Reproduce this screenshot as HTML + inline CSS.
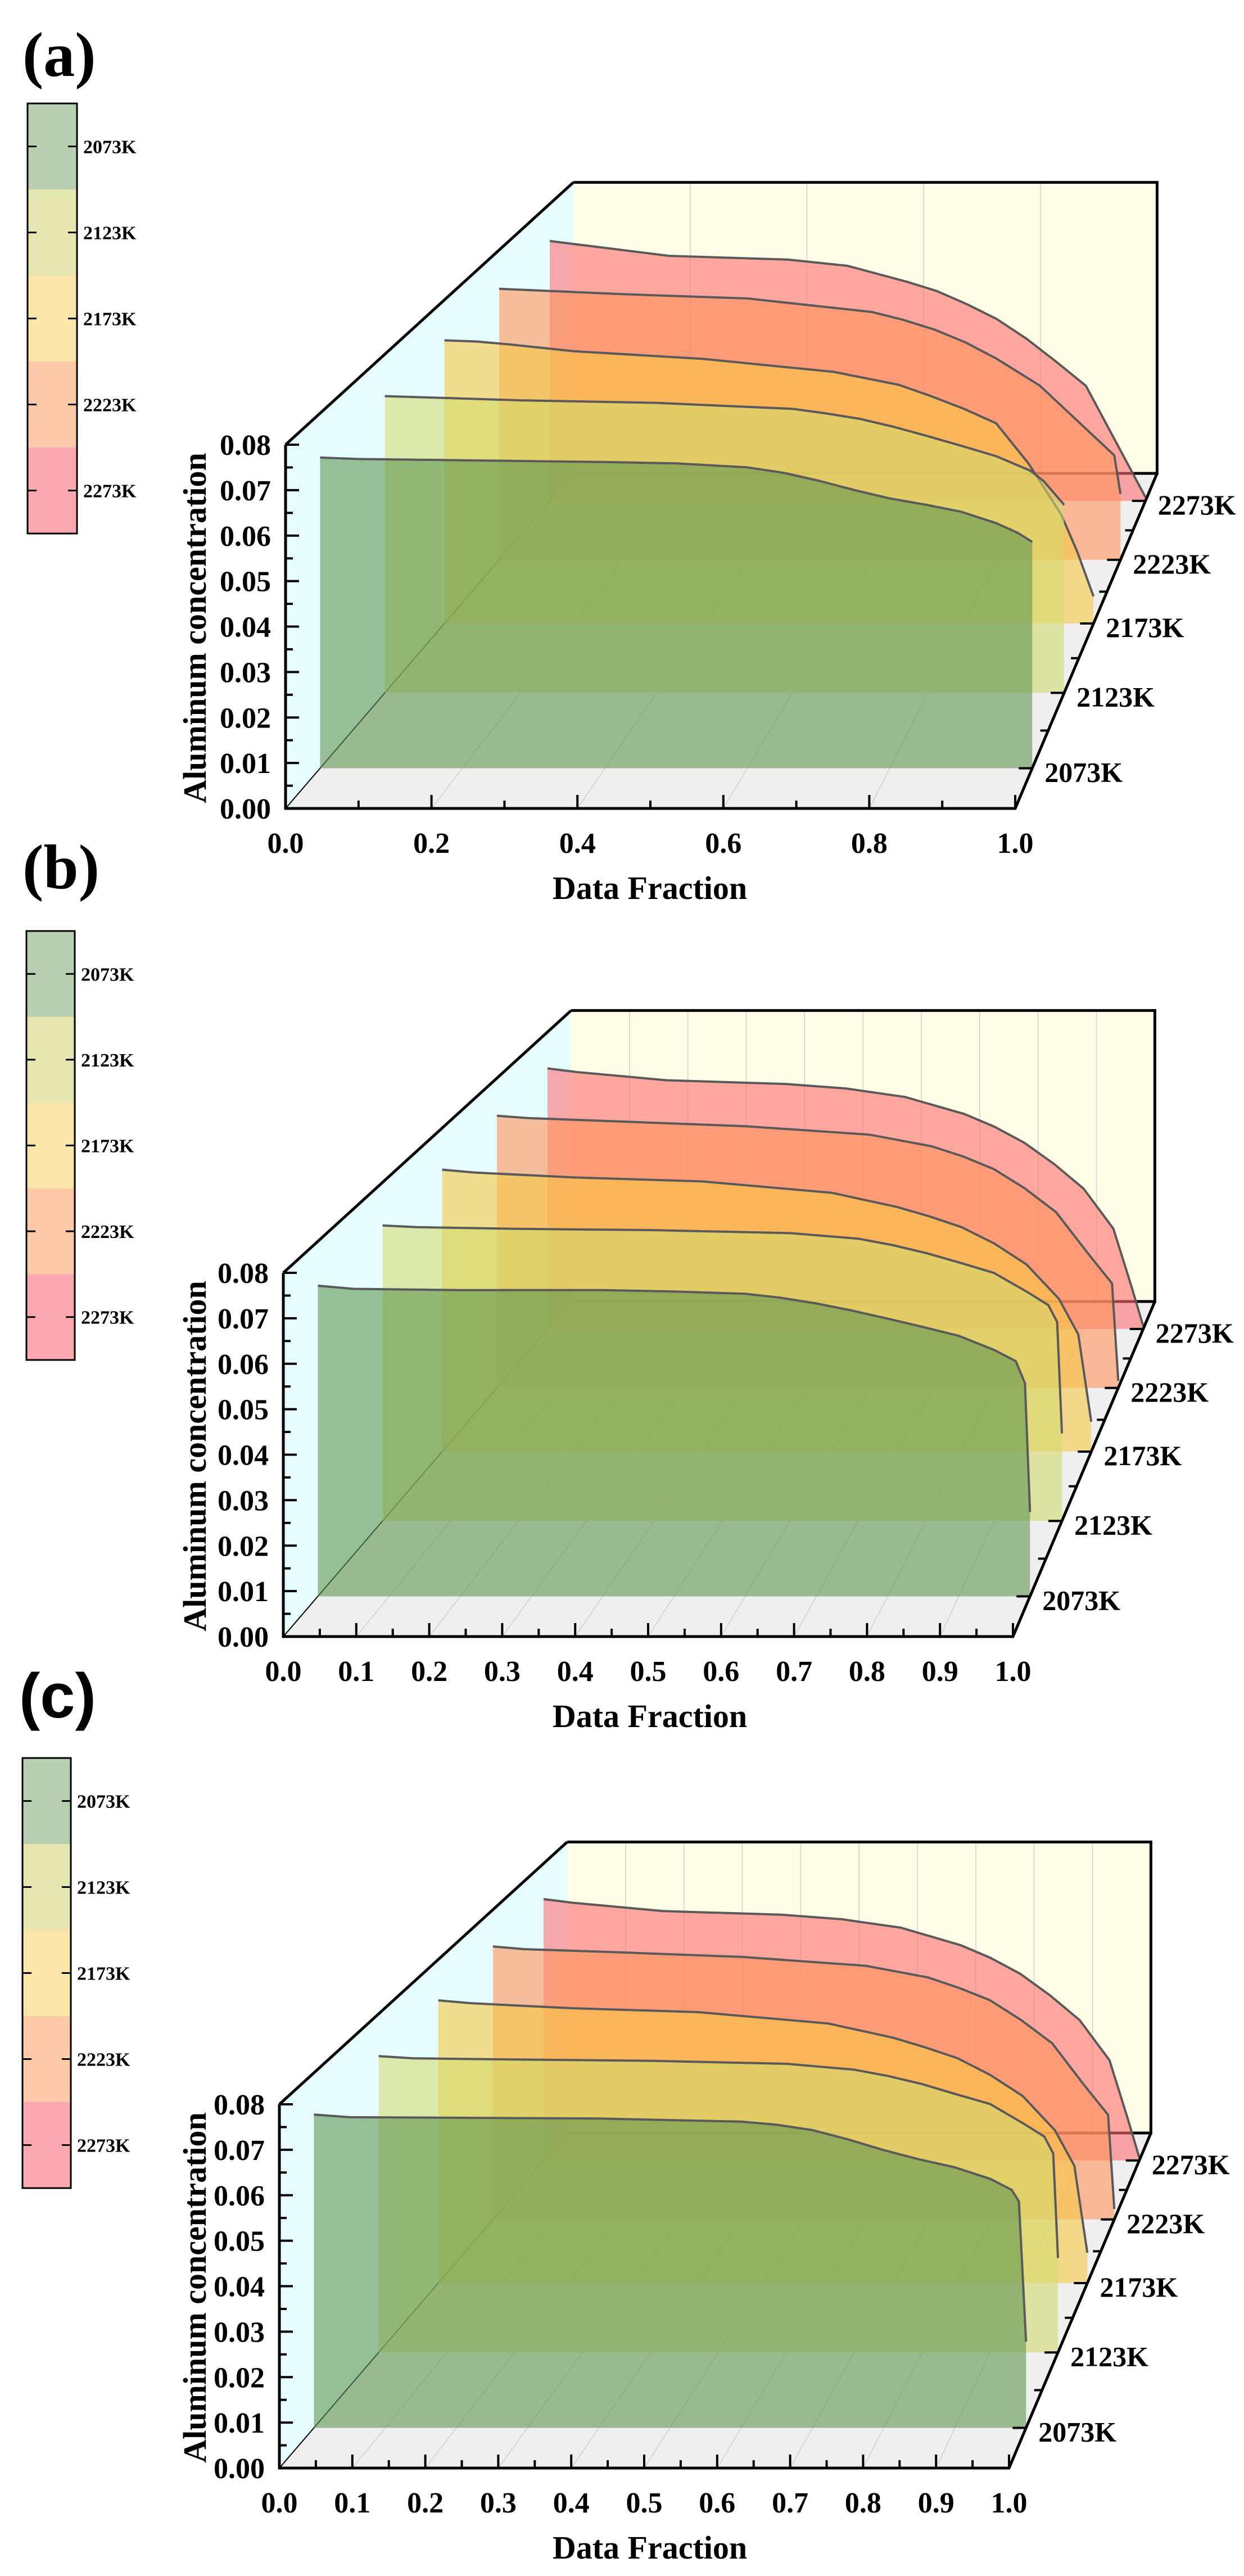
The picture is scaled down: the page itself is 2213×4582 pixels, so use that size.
<!DOCTYPE html>
<html><head><meta charset="utf-8"><style>
html,body{margin:0;padding:0;background:#fff;}
svg{display:block;}
text{font-family:"Liberation Serif",serif;font-weight:bold;fill:#000;}
</style></head><body>
<svg id="fig" width="2213" height="4582" viewBox="0 0 2213 4582" xmlns="http://www.w3.org/2000/svg"></svg>
<script>
// ---------- data ----------
const temps = ['2073K','2123K','2173K','2223K','2273K'];
const yTicks = [0,0.01,0.02,0.03,0.04,0.05,0.06,0.07,0.08];
const yTickLabels = ['0.00','0.01','0.02','0.03','0.04','0.05','0.06','0.07','0.08'];
const xTicksA = [0,0.2,0.4,0.6,0.8,1.0];
const xTickLabelsA = ['0.0','0.2','0.4','0.6','0.8','1.0'];
const xTicksBC = [0,0.1,0.2,0.3,0.4,0.5,0.6,0.7,0.8,0.9,1.0];
const xTickLabelsBC = ['0.0','0.1','0.2','0.3','0.4','0.5','0.6','0.7','0.8','0.9','1.0'];

const a2073x=[0,0.05,0.2,0.4,0.5,0.6,0.65,0.7,0.75,0.8,0.85,0.9,0.95,0.98,1.0];
const a2073v=[0.070,0.0697,0.0694,0.069,0.0687,0.0678,0.0666,0.0648,0.0627,0.0608,0.0594,0.0578,0.0552,0.053,0.051];
const a2123x=[0,0.1,0.2,0.4,0.6,0.65,0.7,0.75,0.8,0.85,0.9,0.95,0.97,1.0];
const a2123v=[0.0701,0.0696,0.0691,0.0685,0.0671,0.066,0.0647,0.0628,0.0606,0.0583,0.0559,0.0525,0.050,0.0444];
const a2173x=[0,0.05,0.1,0.2,0.4,0.6,0.7,0.75,0.8,0.85,0.9,0.95,0.975,1.0];
const a2173v=[0.070,0.0697,0.069,0.0673,0.0654,0.0622,0.059,0.0562,0.0531,0.0495,0.0395,0.027,0.0177,0.0067];
const a2223x=[0,0.2,0.4,0.6,0.65,0.7,0.75,0.8,0.87,0.95,0.99,1.0];
const a2223v=[0.070,0.0686,0.0675,0.064,0.0620,0.0595,0.0562,0.052,0.045,0.033,0.027,0.017];
const a2273x=[0,0.1,0.2,0.4,0.5,0.6,0.65,0.7,0.75,0.8,0.85,0.9,0.93,0.96,1.0];
const a2273v=[0.070,0.068,0.066,0.065,0.0633,0.059,0.0565,0.053,0.049,0.0437,0.0375,0.031,0.022,0.013,0.001];

const b2073x=[0,0.05,0.2,0.4,0.5,0.6,0.65,0.7,0.75,0.8,0.85,0.9,0.95,0.98,0.993,1.0];
const b2073v=[0.070,0.0693,0.069,0.069,0.0687,0.0682,0.0673,0.066,0.0644,0.0626,0.0607,0.0587,0.0555,0.053,0.048,0.019];
const b2123x=[0,0.05,0.2,0.4,0.6,0.7,0.75,0.8,0.85,0.9,0.95,0.98,0.993,1.0];
const b2123v=[0.0698,0.0694,0.069,0.0687,0.068,0.0667,0.0652,0.0633,0.061,0.0586,0.054,0.051,0.047,0.0207];
const b2173x=[0,0.05,0.2,0.4,0.6,0.7,0.75,0.8,0.85,0.9,0.95,0.98,1.0];
const b2173v=[0.0697,0.0690,0.0678,0.0668,0.064,0.0605,0.0582,0.0555,0.0515,0.0463,0.0378,0.029,0.0074];
const b2223x=[0,0.05,0.2,0.4,0.6,0.7,0.75,0.8,0.85,0.9,0.95,0.99,1.0];
const b2223v=[0.0703,0.0697,0.0688,0.0676,0.0654,0.0624,0.0598,0.0565,0.0515,0.0454,0.035,0.027,0.0018];
const b2273x=[0,0.05,0.2,0.4,0.5,0.6,0.7,0.75,0.8,0.85,0.9,0.95,0.98,1.0];
const b2273v=[0.0702,0.0692,0.067,0.066,0.0648,0.0625,0.0579,0.0545,0.0502,0.0445,0.0378,0.027,0.0116,0.0008];

const c2073x=[0,0.05,0.4,0.6,0.65,0.7,0.75,0.8,0.85,0.9,0.95,0.98,0.99,1.0];
const c2073v=[0.0706,0.0700,0.0697,0.069,0.0683,0.0671,0.0650,0.0626,0.0605,0.0587,0.0561,0.0536,0.051,0.0194];
const c2123x=[0,0.05,0.2,0.4,0.6,0.7,0.75,0.8,0.85,0.9,0.95,0.98,0.993,1.0];
const c2123v=[0.0700,0.0695,0.0692,0.0689,0.0682,0.0668,0.0653,0.0634,0.061,0.0587,0.054,0.051,0.047,0.0223];
const c2173x=[0,0.05,0.2,0.4,0.6,0.7,0.75,0.8,0.85,0.9,0.95,0.98,1.0];
const c2173v=[0.0699,0.0692,0.068,0.067,0.0642,0.0607,0.0583,0.0556,0.0515,0.0463,0.0378,0.029,0.0075];
const c2223x=[0,0.05,0.2,0.4,0.6,0.7,0.75,0.8,0.85,0.9,0.95,0.99,1.0];
const c2223v=[0.0705,0.0698,0.069,0.0678,0.0655,0.0625,0.0598,0.0566,0.0515,0.0455,0.035,0.027,0.0027];
const c2273x=[0,0.05,0.2,0.4,0.5,0.6,0.7,0.75,0.8,0.85,0.9,0.95,0.98,1.0];
const c2273v=[0.0704,0.0694,0.0672,0.0662,0.065,0.0627,0.058,0.0546,0.0503,0.0445,0.0378,0.027,0.0116,0.0008];

// ---------- drawing ----------
const NS='http://www.w3.org/2000/svg';
const svg=document.getElementById('fig');
function mk(tag,attrs,parent){const e=document.createElementNS(NS,tag);for(const k in attrs)e.setAttribute(k,attrs[k]);(parent||svg).appendChild(e);return e;}

const depths=[0.12,0.345,0.552,0.742,0.918];
const faceFill=['rgba(95,150,80,0.6)','rgba(210,218,110,0.58)','rgba(246,200,70,0.6)','rgba(255,150,95,0.62)','rgba(255,110,112,0.6)'];
const legendCols=['#b9d0b0','#e6e6b0','#fbe6a9','#fdc9a9','#fca8b0'];

const panels=[
 {id:'a',x0:508,floor:1438,xt:xTicksA,xl:xTickLabelsA,minor:0.1,
  series:[[a2073x,a2073v],[a2123x,a2123v],[a2173x,a2173v],[a2223x,a2223v],[a2273x,a2273v]],
  leg:{x:49,y:184,w:88,h:765},lab:{x:40,y:135,t:'(a)',sans:false}},
 {id:'b',x0:504,floor:2911,xt:xTicksBC,xl:xTickLabelsBC,minor:0.05,
  series:[[b2073x,b2073v],[b2123x,b2123v],[b2173x,b2173v],[b2223x,b2223v],[b2273x,b2273v]],
  leg:{x:47,y:1656,w:86,h:763},lab:{x:40,y:1580,t:'(b)',sans:false}},
 {id:'c',x0:497,floor:4390,xt:xTicksBC,xl:xTickLabelsBC,minor:0.05,
  series:[[c2073x,c2073v],[c2123x,c2123v],[c2173x,c2173v],[c2223x,c2223v],[c2273x,c2273v]],
  leg:{x:40,y:3127,w:86,h:765},lab:{x:34,y:3055,t:'(c)',sans:true}}
];

const W0=1298, DX=512, DY=596, H=647/0.08, SHR=0.2;

panels.forEach(p=>{
  const g=mk('g',{});
  
  
  const L=d=>p.x0+DX*d, Wd=d=>W0*(1-SHR*d), F=d=>p.floor-DY*d;
  const px=(x,d)=>L(d)+x*Wd(d);
  const py=(v,d)=>F(d)-v*H*(1-SHR*d);
  const pt=(x,v,d)=>px(x,d).toFixed(1)+','+py(v,d).toFixed(1);
  const lw=mk('polygon',{points:[pt(0,0,0),pt(0,0.08,0),pt(0,0.08,1),pt(0,0,1)].join(' '),fill:'#e6fdff'},g);
  
  const bw=mk('polygon',{points:[pt(0,0,1),pt(0,0.08,1),pt(1,0.08,1),pt(1,0,1)].join(' '),fill:'#fffde6'},g);
  
  const fl=mk('polygon',{points:[pt(0,0,0),pt(1,0,0),pt(1,0,1),pt(0,0,1)].join(' '),fill:'#efefef'},g);
  
  p.xt.forEach((t,i)=>{
    if(i>0&&i<p.xt.length-1){
      const gl=mk('line',{x1:px(t,1),y1:py(0,1),x2:px(t,1),y2:py(0.08,1),stroke:'#d0d0d0','stroke-width':1.5},g);
      
    }
    if(i>0){
      const fg=mk('line',{x1:px(t,0),y1:py(0,0),x2:px(t,1),y2:py(0,1),stroke:'#c8c8c8','stroke-width':1.2},g);
      
    }
  });
  const be=mk('polyline',{points:[pt(0,0,1),pt(1,0,1),pt(1,0.08,1),pt(0,0.08,1)].join(' '),fill:'none',stroke:'#000','stroke-width':5},g);
  
  const lf=mk('line',{x1:px(0,0),y1:py(0,0),x2:px(0,1),y2:py(0,1),stroke:'#000','stroke-width':2},g);
  
  const lt=mk('line',{x1:px(0,0),y1:py(0.08,0),x2:px(0,1),y2:py(0.08,1),stroke:'#000','stroke-width':5},g);
  
  for(let s=4;s>=0;s--){
    const d=depths[s], xs=p.series[s][0], vs=p.series[s][1];
    const curve=xs.map((x,i)=>pt(x,vs[i],d));
    const poly=[pt(xs[0],0,d)].concat(curve,[pt(xs[xs.length-1],0,d)]);
    const face=mk('polygon',{points:poly.join(' '),fill:faceFill[s]},g);
    
    
    const ln=mk('polyline',{points:curve.join(' '),fill:'none',stroke:'#5a5a5a','stroke-width':4,'stroke-linejoin':'round'},g);
    
    
  }
  const xa=mk('line',{x1:px(0,0)-2,y1:py(0,0),x2:px(1,0)+2,y2:py(0,0),stroke:'#000','stroke-width':5},g);
  
  const ya=mk('line',{x1:px(0,0),y1:py(0,0)+2,x2:px(0,0),y2:py(0.08,0),stroke:'#000','stroke-width':5},g);
  
  const za=mk('line',{x1:px(1,0),y1:py(0,0),x2:px(1,1),y2:py(0,1),stroke:'#000','stroke-width':5},g);
  
  for(let v=0;v<=0.0801;v+=0.005){
    const major=Math.abs(v/0.01-Math.round(v/0.01))<1e-6;
    const tk=mk('line',{x1:px(0,0),y1:py(v,0),x2:px(0,0)+(major?24:13),y2:py(v,0),stroke:'#000','stroke-width':4},g);
    
  }
  yTicks.forEach((t,i)=>{
    const tx=mk('text',{x:px(0,0)-26,y:py(t,0)+18,'text-anchor':'end','font-size':52},g);
    tx.textContent=yTickLabels[i];
    
  });
  for(let x=0;x<=1.0001;x+=p.minor){
    const major=p.xt.some(t=>Math.abs(t-x)<1e-6);
    const tk=mk('line',{x1:px(x,0),y1:py(0,0),x2:px(x,0),y2:py(0,0)-(major?24:14),stroke:'#000','stroke-width':4},g);
    
  }
  p.xt.forEach((t,i)=>{
    const tx=mk('text',{x:px(t,0),y:p.floor+79,'text-anchor':'middle','font-size':52},g);
    tx.textContent=p.xl[i];
    
  });
  const xt=mk('text',{x:1156,y:p.floor+161,'text-anchor':'middle','font-size':58},g);
  xt.textContent='Data Fraction';
  
  const yt=mk('text',{x:0,y:0,'text-anchor':'middle','font-size':58,transform:'translate(366,'+(p.floor-321)+') rotate(-90)'},g);
  yt.textContent='Aluminum concentration';
  
  for(let k=0;k<5;k++){
    const d=depths[k];
    const tk=mk('line',{x1:px(1,d),y1:py(0,d),x2:px(1,d)-24,y2:py(0,d),stroke:'#000','stroke-width':4},g);
    
    if(k<4){
      const dm=(depths[k]+depths[k+1])/2;
      const tm=mk('line',{x1:px(1,dm),y1:py(0,dm),x2:px(1,dm)-14,y2:py(0,dm),stroke:'#000','stroke-width':4},g);
      
    }
    const tx=mk('text',{x:px(1,d)+22,y:py(0,d)+24,'font-size':50},g);
    tx.textContent=temps[k];
    
  }
  const lg=mk('g',{},g);
  
  const bh=p.leg.h/5;
  for(let k=0;k<5;k++){
    const r=mk('rect',{x:p.leg.x,y:p.leg.y+k*bh,width:p.leg.w,height:bh+0.5,fill:legendCols[k]},lg);
    
    const cy=p.leg.y+(k+0.5)*bh;
    const t1=mk('line',{x1:p.leg.x,y1:cy,x2:p.leg.x+16,y2:cy,stroke:'#000','stroke-width':3},lg);
    
    const t2=mk('line',{x1:p.leg.x+p.leg.w-16,y1:cy,x2:p.leg.x+p.leg.w,y2:cy,stroke:'#000','stroke-width':3},lg);
    
    const tx=mk('text',{x:p.leg.x+p.leg.w+11,y:cy+12,'font-size':34},lg);
    tx.textContent=temps[k];
    
  }
  const lb=mk('rect',{x:p.leg.x,y:p.leg.y,width:p.leg.w,height:p.leg.h,fill:'none',stroke:'#000','stroke-width':3},lg);
  
  const pl=mk('text',{x:p.lab.x,y:p.lab.y,'font-size':112},g);
  if(p.lab.sans) pl.setAttribute('style','font-family:"Liberation Sans",sans-serif;font-weight:bold');
  pl.textContent=p.lab.t;
  
});
</script>
</body></html>
